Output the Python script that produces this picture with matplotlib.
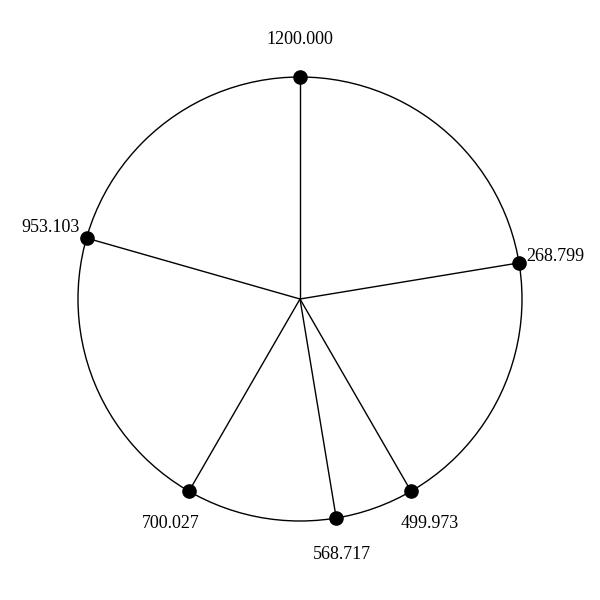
import numpy as np
import matplotlib
matplotlib.use("Agg")
import matplotlib.pyplot as plt
from matplotlib.patches import Circle

values = [1200.000, 268.799, 499.973, 568.717, 700.027, 953.103]
labels = ["1200.000", "268.799", "499.973", "568.717", "700.027", "953.103"]
max_value = 1200.0

fig = plt.figure(figsize=(6, 6), dpi=100)
ax = fig.add_axes([0, 0, 1, 1])
ax.set_xlim(-300, 300)
ax.set_ylim(-301, 299)
ax.set_aspect("equal")
ax.axis("off")

R = 222
LR = 259
ax.add_patch(Circle((0, 0), R, fill=False, edgecolor="black", lw=1.0))

for v, lab in zip(values, labels):
    ang = v / max_value * 2 * np.pi
    x, y = R * np.sin(ang), R * np.cos(ang)
    ax.plot([0, x], [0, y], color="black", lw=1.0)
    ax.plot(x, y, "o", color="black", markersize=9.5, zorder=3)
    ax.text(LR * np.sin(ang), LR * np.cos(ang), lab, ha="center", va="center",
            fontsize=13, family="Liberation Serif")

fig.savefig("out.png", dpi=100)
